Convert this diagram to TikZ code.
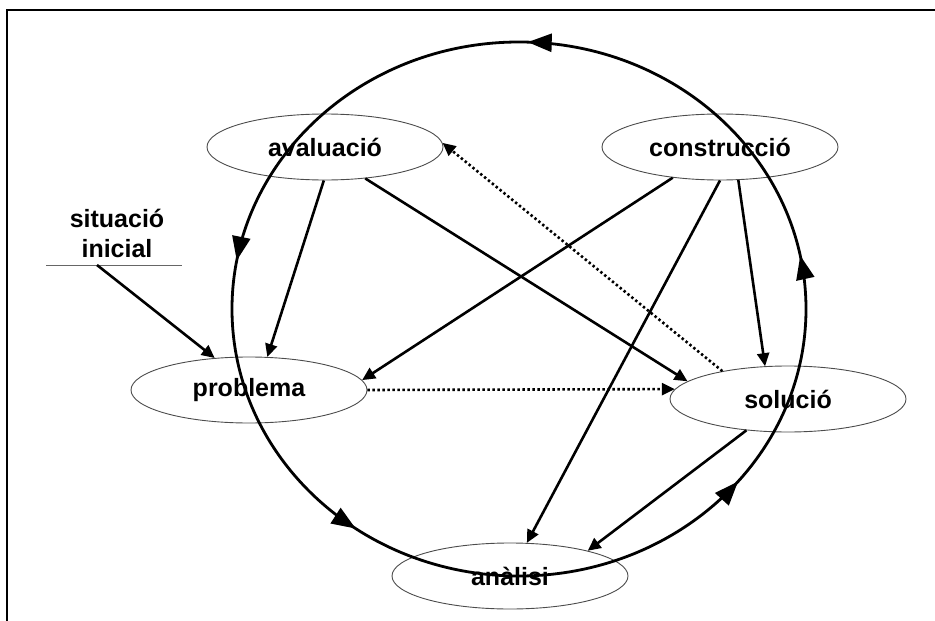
\documentclass[tikz,border=0pt]{standalone}
\usepackage{fontspec}
\setmainfont{Liberation Sans}
\usetikzlibrary{shapes.geometric,arrows.meta,decorations.markings}
\tikzset{ringhead/.tip={Triangle[length=24pt,width=18pt]}}
\begin{document}
\begin{tikzpicture}[x=1pt,y=1pt,
  label font/.style={font=\fontsize{25}{30}\selectfont\bfseries},
  stage/.style={ellipse, draw=black!70, line width=0.9pt,
    minimum width=236pt, minimum height=66pt, inner sep=0pt, label font},
  link/.style={line width=2.6pt, -{Triangle[length=13pt,width=12pt]}},
  hint/.style={link, dash pattern=on 2.4pt off 2.6pt},
  ringtip/.style={decoration={markings,
      mark=at position 0.031 with {\arrow{ringhead}},
      mark=at position 0.245 with {\arrow{ringhead}},
      mark=at position 0.472 with {\arrow{ringhead}},
      mark=at position 0.651 with {\arrow{ringhead}},
      mark=at position 0.891 with {\arrow{ringhead}}},
    postaction={decorate}},
  ring/.style={line width=2.8pt, ringtip}
]
\useasboundingbox (0,0) rectangle (935,-621);

% frame edges
\draw[line width=2pt] (7,-621) -- (7,-10) -- (935,-10);

% stages of the cycle
\node[stage] (aval) at (325,-147) {avaluació};
\node[stage] (cons) at (720,-147) {construcció};
\node[stage] (prob) at (249,-390) {problema};
\node[stage] (sol)  at (788,-399) {solució};
\node[stage] (ana)  at (510,-576) {anàlisi};

% starting point
\node[label font, align=center, inner sep=0pt] (sit) at (117,-233) {situació\\inicial};
\coordinate (ulL) at (46,-265);
\coordinate (ulR) at (182,-265);
\coordinate (sitfoot) at (97,-265);
\draw[black!60, line width=1pt] (ulL) -- (ulR);

% links between stages
\draw[link] (sitfoot) -- (prob.137);
\draw[link] (aval.-92) -- (prob.61);
\draw[link] (aval.-38) -- (sol.170);
\draw[link] (cons.213) -- (prob.5);
\draw[link] (cons.-90) -- (ana.63);
\draw[link] (cons.-61) -- (sol.125);
\draw[link] (sol.217) -- (ana.18);
\draw[hint] (prob.east) -- (sol.175);
\draw[hint] (sol.157) -- (aval.2);

% the surrounding cycle
\coordinate (ringC) at (519,-309);
\draw[ring] ([xshift=287pt]ringC) arc[start angle=0, end angle=360, x radius=287pt, y radius=267pt];
\end{tikzpicture}
\end{document}
